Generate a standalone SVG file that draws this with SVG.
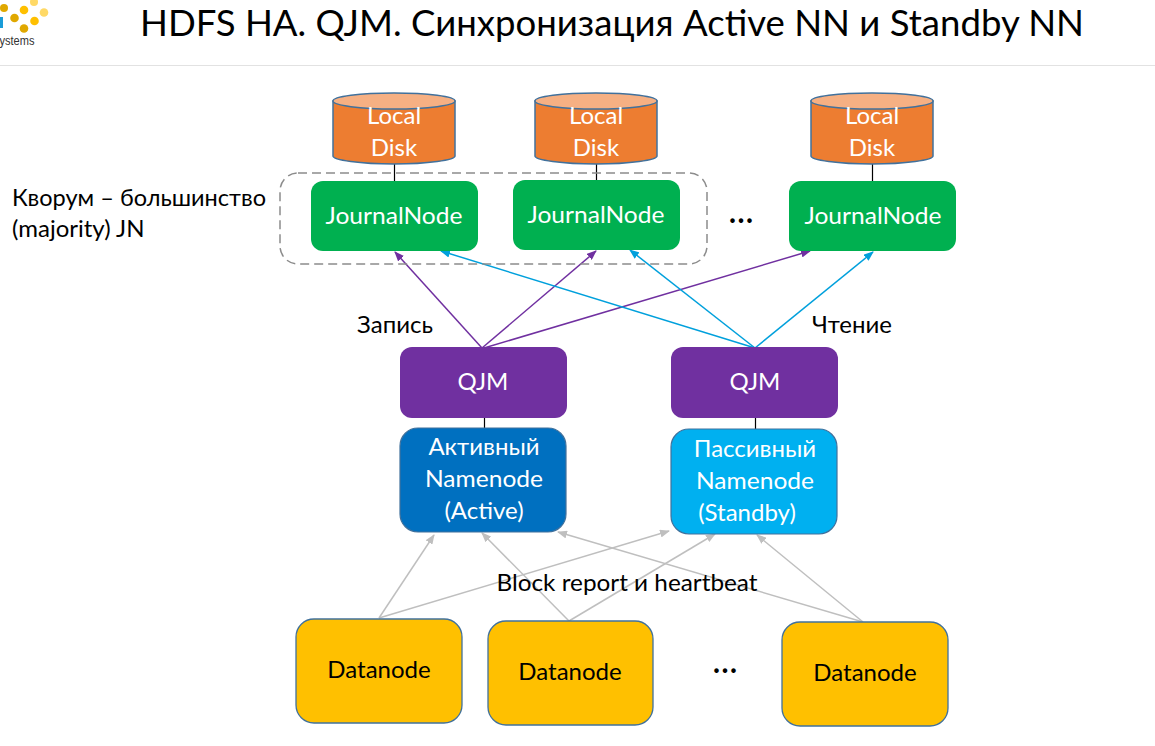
<svg xmlns="http://www.w3.org/2000/svg" width="1155" height="746" viewBox="0 0 1155 746">
<style>
text{font-family:"Lato","Open Sans","Noto Sans",sans-serif;text-anchor:middle}
.w{fill:#fff;font-size:24px}
.k{fill:#000;font-size:24px}
.jn{fill:#00b050}.qjm{fill:#7030a0}
.dn{fill:#ffc000;stroke:#41719c;stroke-width:1.3}
.disk{fill:#ed7d31;stroke:#41719c;stroke-width:1.5}
.top{fill:#f6b083;stroke:#41719c;stroke-width:1.5}
.lk{stroke:#000;stroke-width:1.2;fill:none}
.p{stroke:#7030a0;stroke-width:1.5;fill:none;marker-end:url(#ap)}
.b{stroke:#00a0dc;stroke-width:1.5;fill:none;marker-end:url(#ab)}
.g{stroke:#bfbfbf;stroke-width:1.5;fill:none;marker-end:url(#ag)}
.d{font-size:36px}
</style>
<defs>
<marker id="ap" markerWidth="10" markerHeight="8" refX="9" refY="4" orient="auto" markerUnits="userSpaceOnUse"><path d="M0 0L10 4L0 8z" fill="#7030a0"/></marker>
<marker id="ab" markerWidth="10" markerHeight="8" refX="9" refY="4" orient="auto" markerUnits="userSpaceOnUse"><path d="M0 0L10 4L0 8z" fill="#00a0dc"/></marker>
<marker id="ag" markerWidth="10" markerHeight="8" refX="9" refY="4" orient="auto" markerUnits="userSpaceOnUse"><path d="M0 0L10 4L0 8z" fill="#bfbfbf"/></marker>
</defs>
<rect width="1155" height="746" fill="#fff"/>
<g id="header">
<circle cx="34" cy="2" r="4" fill="#ffd966"/><circle cx="4" cy="8" r="4" fill="#e0a800"/><circle cx="24" cy="10" r="4.300" fill="#ffc000"/><circle cx="44" cy="12.500" r="4.300" fill="#ffd966"/><circle cx="14.500" cy="18" r="4.300" fill="#e0a800"/><circle cx="34.500" cy="21" r="4.300" fill="#ffc000"/><circle cx="24" cy="28.500" r="4.300" fill="#e0a800"/>
<rect x="0" y="17" width="3" height="11" fill="#1a9cd8"/>
<text x="17" y="45" style="font-size:13px;fill:#333;font-family:'Liberation Sans',sans-serif" textLength="35" lengthAdjust="spacingAndGlyphs">ystems</text>
<text x="612" y="36" style="font-size:37px;fill:#000" textLength="944" lengthAdjust="spacingAndGlyphs">HDFS HA. QJM. Синхронизация Active NN и Standby NN</text>
<line x1="0" y1="65.500" x2="1155" y2="65.500" stroke="#e2e2e2" stroke-width="1.2"/>
</g>
<g id="connectors">
<path class="lk" d="M394.500 164V181M596.500 164V180M872.500 164V181M484.500 418V428M755.500 418V429"/>
<path class="p" d="M482 348L395 252"/><path class="p" d="M482 348L596 251"/><path class="p" d="M484 348L810 251"/>
<path class="b" d="M755 348L441 251"/><path class="b" d="M755 348L630 250"/><path class="b" d="M755 348L873 252"/>
<path class="g" d="M379 618L434 535"/><path class="g" d="M379 618L669 531"/><path class="g" d="M569 621L482 533"/><path class="g" d="M569 621L715 534"/><path class="g" d="M863 622L558 532"/><path class="g" d="M863 622L757 535"/>
</g>
<g id="quorum"><rect x="280" y="173" width="427" height="91" rx="18" fill="none" stroke="#8c8c8c" stroke-width="1.5" stroke-dasharray="9 5"/></g>
<g id="disk1"><path class="disk" d="M333 101V156C333 160 360 164 394 164S455 160 455 156V101Z"/><ellipse class="top" cx="394" cy="101" rx="61" ry="8"/><text class="w" x="394" y="124">Local</text><text class="w" x="394" y="156">Disk</text></g>
<g id="disk2"><path class="disk" d="M535 101V156C535 160 562 164 596 164S657 160 657 156V101Z"/><ellipse class="top" cx="596" cy="101" rx="61" ry="8"/><text class="w" x="596" y="124">Local</text><text class="w" x="596" y="156">Disk</text></g>
<g id="disk3"><path class="disk" d="M811 101V156C811 160 838 164 872 164S933 160 933 156V101Z"/><ellipse class="top" cx="872" cy="101" rx="61" ry="8"/><text class="w" x="872" y="124">Local</text><text class="w" x="872" y="156">Disk</text></g>
<g id="jn1"><rect class="jn" x="311" y="181" width="167" height="70" rx="12"/><text class="w" x="394" y="224" textLength="137" lengthAdjust="spacingAndGlyphs">JournalNode</text></g>
<g id="jn2"><rect class="jn" x="513" y="180" width="167" height="70" rx="12"/><text class="w" x="596" y="223" textLength="137" lengthAdjust="spacingAndGlyphs">JournalNode</text></g>
<g id="jn3"><rect class="jn" x="789" y="181" width="167" height="70" rx="12"/><text class="w" x="873" y="224" textLength="137" lengthAdjust="spacingAndGlyphs">JournalNode</text></g>
<g id="qjm1"><rect class="qjm" x="400" y="347" width="167" height="71" rx="12"/><text class="w" x="483" y="390">QJM</text></g>
<g id="qjm2"><rect class="qjm" x="671" y="347" width="167" height="71" rx="12"/><text class="w" x="755" y="390">QJM</text></g>
<g id="nn1"><rect x="400" y="428" width="166" height="104" rx="18" fill="#0070c0" stroke="#41719c" stroke-width="1.2"/><text class="w" x="484" y="455">Активный</text><text class="w" x="484" y="487" textLength="118" lengthAdjust="spacingAndGlyphs">Namenode</text><text class="w" x="484" y="519">(Active)</text></g>
<g id="nn2"><rect x="671" y="429" width="166" height="105" rx="18" fill="#00b0f0" stroke="#41719c" stroke-width="1.2"/><text class="w" x="755" y="457">Пассивный</text><text class="w" x="755" y="489" textLength="118" lengthAdjust="spacingAndGlyphs">Namenode</text><text class="w" x="747" y="521">(Standby)</text></g>
<g id="dn1"><rect class="dn" x="296" y="619" width="166" height="104" rx="18"/><text class="k" x="379" y="678">Datanode</text></g>
<g id="dn2"><rect class="dn" x="488" y="621" width="165" height="104" rx="18"/><text class="k" x="570" y="680">Datanode</text></g>
<g id="dn3"><rect class="dn" x="782" y="622" width="166" height="104" rx="18"/><text class="k" x="865" y="681">Datanode</text></g>
<g id="labels">
<text class="k" x="139" y="206" textLength="254" lengthAdjust="spacingAndGlyphs">Кворум – большинство</text>
<text x="12" y="237" class="k" style="text-anchor:start">(majority) JN</text>
<text class="k" x="395" y="333">Запись</text>
<text class="k" x="852" y="333">Чтение</text>
<text class="k" x="627" y="591" textLength="261" lengthAdjust="spacingAndGlyphs">Block report и heartbeat</text>
<text class="k d" x="741" y="223">...</text>
<text class="k d" x="725" y="673">...</text>
</g>
</svg>
